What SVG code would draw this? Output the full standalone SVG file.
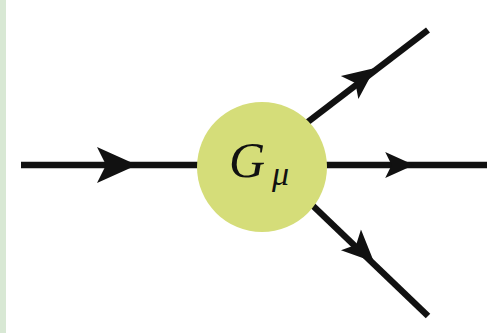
<svg xmlns="http://www.w3.org/2000/svg" width="487" height="333" viewBox="0 0 487 333">
<defs>
<style>
.ln{stroke:#111;stroke-width:6.5;fill:none}
.ah{fill:#111}
.lbl{font-family:"Liberation Serif","DejaVu Serif",serif;font-style:italic;fill:#111}
</style>
<path id="head" d="M0,0 L-40,-18 L-31,0 L-40,18 Z"/>
</defs>
<rect x="0" y="0" width="487" height="333" fill="#fff"/>
<rect x="0" y="0" width="6" height="333" fill="#d8e8d4"/>
<g id="connectors">
<line class="ln" x1="21" y1="165" x2="262" y2="165"/>
<line class="ln" x1="262" y1="165" x2="487" y2="165"/>
<line class="ln" x1="262" y1="157" x2="428" y2="30"/>
<line class="ln" x1="262" y1="157" x2="428" y2="316"/>
<use href="#head" class="ah" transform="translate(137,165)"/>
<use href="#head" class="ah" transform="translate(414,165) scale(0.72)"/>
<use href="#head" class="ah" transform="translate(375,68) rotate(-37.5) scale(0.8)"/>
<use href="#head" class="ah" transform="translate(374,262) rotate(44) scale(0.8)"/>
</g>
<g id="node-G">
<circle cx="262" cy="167" r="65" fill="#d5dd79"/>
<text class="lbl" x="229" y="177" font-size="50">G</text>
<text class="lbl" x="272" y="185" font-size="34">μ</text>
</g>
</svg>
